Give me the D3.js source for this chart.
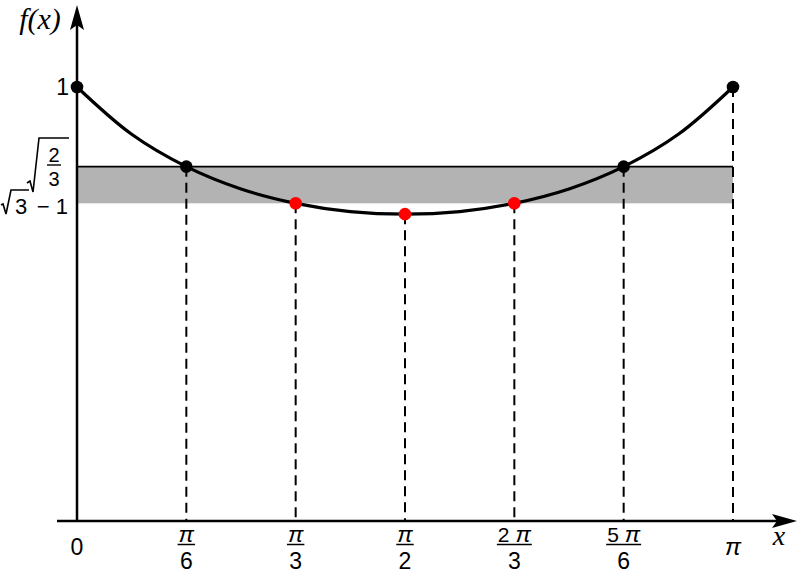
<!DOCTYPE html>
<html>
<head>
<meta charset="utf-8">
<script src="https://cdn.jsdelivr.net/npm/d3@7"></script>
<style>
  body { margin: 0; background: #fff; }
  text { font-family: "Liberation Sans", Arial, sans-serif; }
  text.math { font-family: "Liberation Serif", "DejaVu Serif", serif; font-style: italic; }
  tspan.pi { font-style: italic; }
</style>
</head>
<body>
<svg id="chart" width="800" height="573"></svg>
<script>
// curve samples, x in multiples of pi/12
const curveX = [0, 1, 2, 3, 4, 5, 6, 7, 8, 9, 10, 11, 12]
const curveY = [1, 0.891, 0.8165, 0.765, 0.732, 0.713, 0.707, 0.713, 0.732, 0.765, 0.8165, 0.891, 1]

// marked points (x in multiples of pi/6)
const markX = [0, 1, 2, 3, 4, 5, 6]
const markY = [1, 0.8165, 0.732, 0.707, 0.732, 0.8165, 1]
const markColor = ["black", "black", "red", "red", "red", "black", "black"]

const bandTop = 0.8165
const bandBottom = 0.732

const tickNum = ["", "", "", "2 ", "5 ", ""]
const tickDen = ["6", "3", "2", "3", "6", ""]

const svg = d3.select("#chart")

const x = d3.scaleLinear().domain([0, Math.PI]).range([77, 733])
const y = d3.scaleLinear().domain([0, 1]).range([521, 87])

// gray band
svg.append("rect")
  .attr("x", x(0))
  .attr("y", y(bandTop))
  .attr("width", x(Math.PI) - x(0))
  .attr("height", y(bandBottom) - y(bandTop))
  .attr("fill", "#b3b3b3")

svg.append("line")
  .attr("x1", x(0)).attr("x2", x(Math.PI))
  .attr("y1", y(bandTop)).attr("y2", y(bandTop))
  .attr("stroke", "black").attr("stroke-width", 1.6)

// dashed drop lines
svg.selectAll("line.drop")
  .data(markX.filter(d => d > 0))
  .enter()
  .append("line")
  .attr("class", "drop")
  .attr("x1", d => x(d * Math.PI / 6))
  .attr("x2", d => x(d * Math.PI / 6))
  .attr("y1", d => y(markY[d]))
  .attr("y2", y(0))
  .attr("stroke", "black")
  .attr("stroke-width", 2)
  .attr("stroke-dasharray", "10,6")

// axes
svg.append("line")
  .attr("x1", 57).attr("x2", 780)
  .attr("y1", y(0)).attr("y2", y(0))
  .attr("stroke", "black").attr("stroke-width", 2.5)
svg.append("path")
  .attr("d", `M797,${y(0)} L772,${y(0) - 7} L777,${y(0)} L772,${y(0) + 7} Z`)
  .attr("fill", "black")

svg.append("line")
  .attr("x1", x(0)).attr("x2", x(0))
  .attr("y1", y(0)).attr("y2", 25)
  .attr("stroke", "black").attr("stroke-width", 2.5)
svg.append("path")
  .attr("d", `M${x(0)},5 L${x(0) - 7},30 L${x(0)},25 L${x(0) + 7},30 Z`)
  .attr("fill", "black")

// curve
const line = d3.line()
  .x((d, i) => x(curveX[i] * Math.PI / 12))
  .y(d => y(d))
  .curve(d3.curveCatmullRom)

svg.append("path")
  .datum(curveY)
  .attr("d", line)
  .attr("fill", "none")
  .attr("stroke", "black")
  .attr("stroke-width", 3.2)

// points
svg.selectAll("circle")
  .data(markY)
  .enter()
  .append("circle")
  .attr("cx", (d, i) => x(markX[i] * Math.PI / 6))
  .attr("cy", d => y(d))
  .attr("r", 6.3)
  .attr("fill", (d, i) => markColor[i])

// x tick labels
svg.append("text")
  .attr("x", x(0)).attr("y", 555)
  .attr("text-anchor", "middle")
  .attr("font-size", 23)
  .text("0")

tickNum.forEach((num, i) => {
  const cx = x((i + 1) * Math.PI / 6)
  if (tickDen[i] === "") {
    const t = svg.append("text")
      .attr("x", cx).attr("y", 555)
      .attr("text-anchor", "middle")
      .attr("font-size", 24)
    t.append("tspan").attr("class", "pi").text("π")
    return
  }
  const t = svg.append("text")
    .attr("x", cx).attr("y", 542)
    .attr("text-anchor", "middle")
    .attr("font-size", 21)
  t.append("tspan").text(num)
  t.append("tspan").attr("class", "pi").attr("font-size", 23).text("π")
  const w = t.node().getComputedTextLength()
  svg.append("line")
    .attr("x1", cx - w / 2 - 1).attr("x2", cx + w / 2 + 1)
    .attr("y1", 544.5).attr("y2", 544.5)
    .attr("stroke", "black").attr("stroke-width", 1.5)
  svg.append("text")
    .attr("x", cx).attr("y", 569)
    .attr("text-anchor", "middle")
    .attr("font-size", 23)
    .text(tickDen[i])
})

svg.append("text")
  .attr("class", "math")
  .attr("x", 779).attr("y", 545)
  .attr("text-anchor", "middle")
  .attr("font-size", 28)
  .text("x")

svg.append("text")
  .attr("class", "math")
  .attr("x", 40).attr("y", 29)
  .attr("text-anchor", "middle")
  .attr("font-size", 30)
  .text("f(x)")

// y labels
svg.append("text")
  .attr("x", 69).attr("y", y(1) + 8)
  .attr("text-anchor", "end")
  .attr("font-size", 23)
  .text("1")

// sqrt(2/3)
svg.append("path")
  .attr("d", "M27,183 L30,181 L33,192 L39,138 L69,138")
  .attr("fill", "none").attr("stroke", "black").attr("stroke-width", 1.6)
svg.append("text")
  .attr("x", 54).attr("y", 162)
  .attr("text-anchor", "middle")
  .attr("font-size", 20)
  .text("2")
svg.append("line")
  .attr("x1", 47).attr("x2", 61)
  .attr("y1", 165).attr("y2", 165)
  .attr("stroke", "black").attr("stroke-width", 1.4)
svg.append("text")
  .attr("x", 54).attr("y", 186)
  .attr("text-anchor", "middle")
  .attr("font-size", 20)
  .text("3")

// sqrt(3) - 1
svg.append("path")
  .attr("d", "M1,205 L3,204 L6,214 L11,190 L29,190")
  .attr("fill", "none").attr("stroke", "black").attr("stroke-width", 1.6)
svg.append("text")
  .attr("x", 21).attr("y", 214)
  .attr("text-anchor", "middle")
  .attr("font-size", 22)
  .text("3")
svg.append("text")
  .attr("x", 68).attr("y", 214)
  .attr("text-anchor", "end")
  .attr("font-size", 22)
  .text("− 1")
</script>
</body>
</html>
